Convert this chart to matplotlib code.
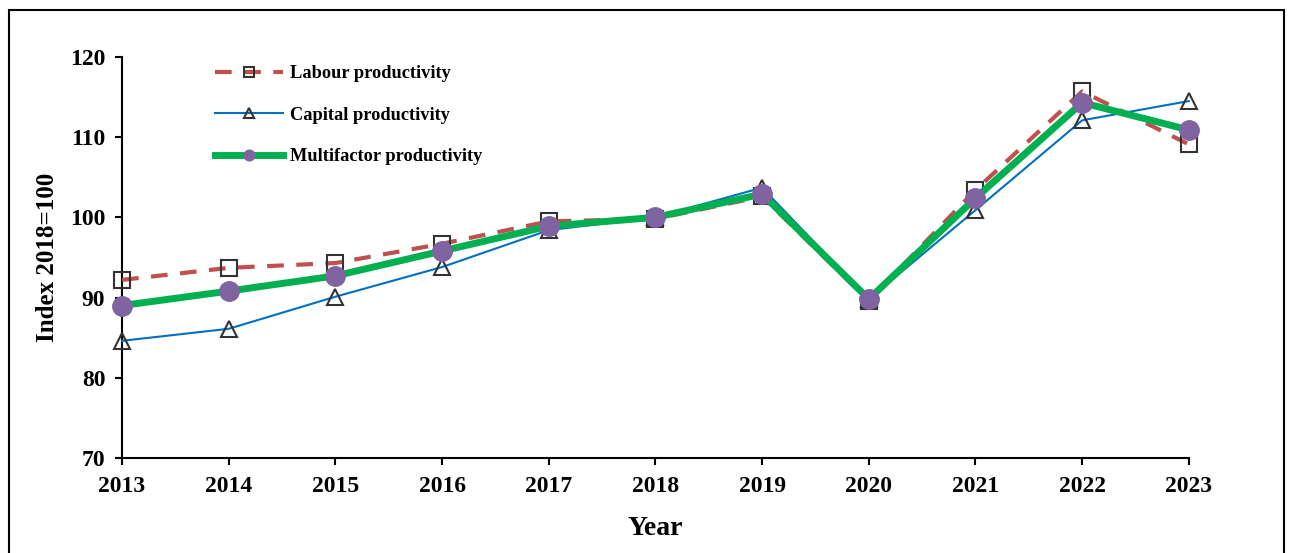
import matplotlib.pyplot as plt
from matplotlib.patches import Rectangle

plt.rcParams['font.family'] = ['Liberation Serif', 'DejaVu Serif']
plt.rcParams['font.weight'] = 'bold'

years = [2013, 2014, 2015, 2016, 2017, 2018, 2019, 2020, 2021, 2022, 2023]
labour = [92.2, 93.7, 94.3, 96.7, 99.5, 99.8, 102.6, 89.6, 103.4, 115.7, 109.1]
capital = [84.6, 86.1, 90.1, 93.8, 98.4, 100.0, 103.7, 89.8, 100.9, 112.1, 114.5]
multifactor = [89.0, 90.8, 92.7, 95.8, 98.9, 100.0, 102.9, 89.8, 102.4, 114.3, 110.9]

fig = plt.figure(figsize=(12.9, 5.53), dpi=100)
ax = fig.add_axes([0.0946, 0.172, 0.827, 0.725])

ax.plot(years, labour, color='#C0504D', lw=3, ls=(0, (4, 3)),
        marker='s', ms=12, mfc='none', mec='#333333', mew=1.5,
        label='Labour productivity', clip_on=False, zorder=3)
ax.plot(years, capital, color='#0070C0', lw=1.5,
        marker='^', ms=12, mfc='none', mec='#333333', mew=1.5,
        label='Capital productivity', clip_on=False, zorder=3)
ax.plot(years, multifactor, color='#00B050', lw=5,
        marker='o', ms=14, mfc='#8064A2', mec='#8064A2',
        label='Multifactor productivity', clip_on=False, zorder=4)

ax.set_xlim(2013, 2023)
ax.set_ylim(70, 120)
ax.set_xticks(years)
ax.set_yticks(range(70, 121, 10))
ax.tick_params(labelsize=17, width=1.5, length=5)
ax.tick_params(axis='x', pad=8)
ax.tick_params(axis='y', pad=7)
for s in ['top', 'right']:
    ax.spines[s].set_visible(False)
for s in ['left', 'bottom']:
    ax.spines[s].set_linewidth(1.5)
ax.set_xlabel('Year', fontsize=20, fontweight='bold', labelpad=14)
ax.set_ylabel('Index 2018=100', fontsize=18, fontweight='bold', labelpad=8)

leg = ax.legend(loc='upper left', bbox_to_anchor=(0.087, 0.98), frameon=False,
                fontsize=13.2, markerscale=0.55, labelspacing=1.35,
                handlelength=3.7, handletextpad=0.4,
                borderaxespad=0, borderpad=0)

fig.patches.append(Rectangle((0.007, -0.01), 0.988, 0.992, transform=fig.transFigure,
                             fill=False, edgecolor='black', lw=1.5))

fig.savefig('out.png', dpi=100)
